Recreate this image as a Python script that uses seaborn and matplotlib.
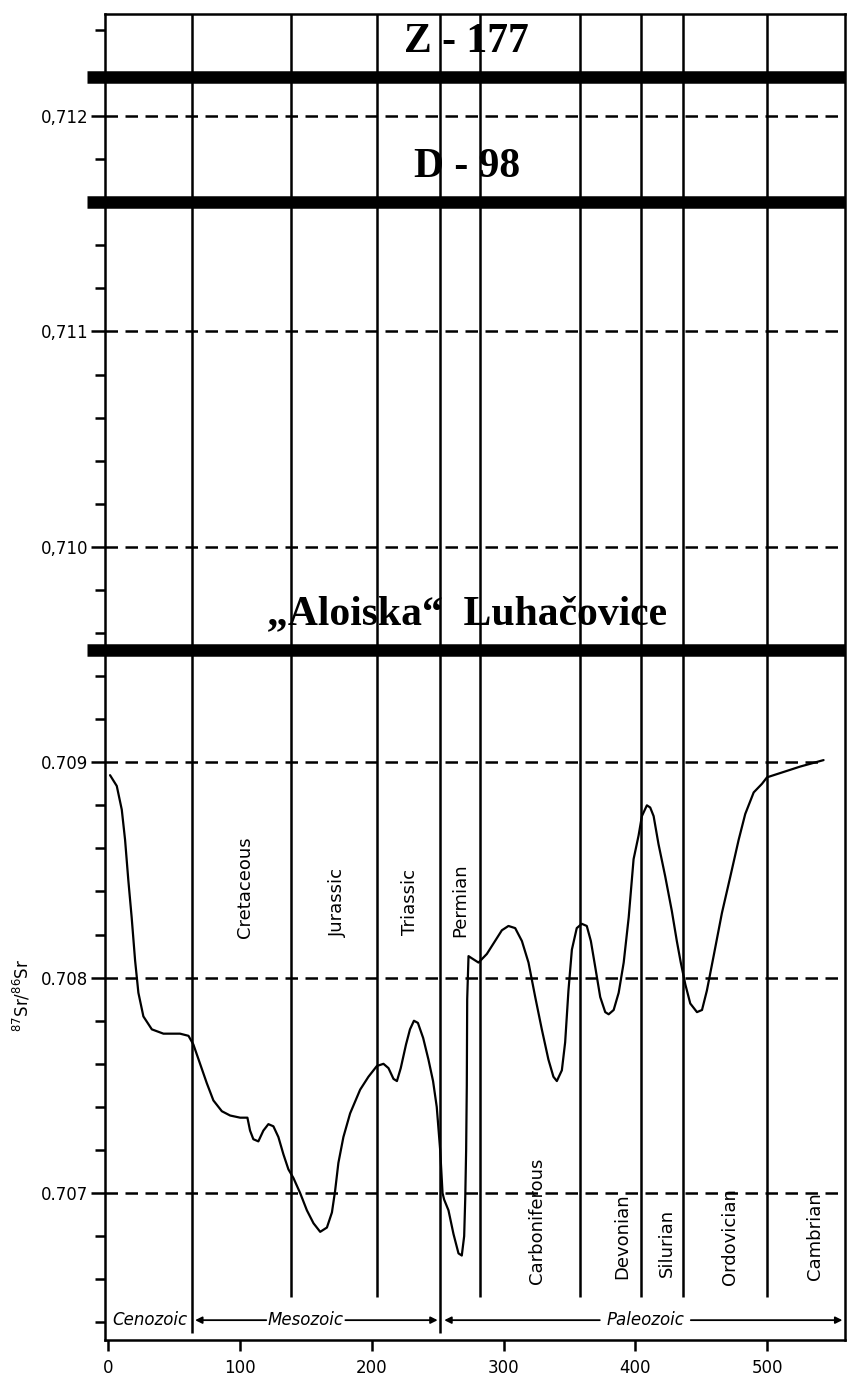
import matplotlib
matplotlib.use("Agg")
import matplotlib.pyplot as plt
import matplotlib as mpl
import seaborn as sns
import pandas as pd

# Sr isotope curve (age in Ma, 87Sr/86Sr)
age = [1.5, 6.6, 10.4, 12.9, 15.4, 17.9, 20.5, 23, 26.8, 33.2, 42, 54.6, 61,
       64.7, 69.8, 74.9, 79.9, 86.3, 92.6, 100.2, 105.7, 107.7, 110.2, 114,
       117.8, 121.6, 125.4, 129.2, 133, 136.8, 140.6, 145.7, 150.8, 155.8,
       160.9, 166, 169.8, 172.2, 174.7, 178.5, 183.6, 191.2, 197.5, 203.9,
       208.9, 212.7, 216.5, 219.1, 222, 226, 229, 232, 235, 239, 243, 246.5,
       249.3, 251.9, 253.7, 254.9, 258.2, 262, 265.8, 268.3, 270.1, 270.9,
       271.6, 272.1, 272.4, 273.4, 275.9, 281, 287.3, 298.7, 303.7, 308.8,
       313.9, 318.9, 324, 329, 334, 337.8, 340.4, 344.2, 346.7, 349.2, 351.8,
       355.5, 359.3, 363.1, 366.2, 369.5, 373.3, 377.1, 379.7, 383.5, 387.3,
       391.1, 394.9, 398.6, 402.4, 404.9, 408.7, 411.2, 413.8, 417.5, 422.6,
       427.6, 431.4, 434.4, 437.8, 441.6, 446.7, 450.5, 454.2, 459.3, 465.6,
       472, 478.3, 483.3, 489.7, 496, 499.8, 509.9, 525, 542.7]
ratio = [0.70894, 0.70889, 0.70878, 0.70864, 0.70845, 0.70828, 0.70808, 0.70793,
         0.70782, 0.70776, 0.70774, 0.70774, 0.70773,
         0.70769, 0.70760, 0.70751, 0.70743, 0.70738, 0.70736, 0.70735, 0.70735,
         0.70729, 0.70725, 0.70724,
         0.70729, 0.70732, 0.70731, 0.70726, 0.70718, 0.70711, 0.70707, 0.70700,
         0.70692, 0.70686,
         0.70682, 0.70684, 0.70691, 0.70701, 0.70714, 0.70726, 0.70737, 0.70748,
         0.70754, 0.70759,
         0.70760, 0.70758, 0.70753, 0.70752, 0.70758, 0.70769, 0.70776, 0.70780,
         0.70779, 0.70772, 0.70762, 0.70752,
         0.70740, 0.70720, 0.70700, 0.70697, 0.70692, 0.70681, 0.70672, 0.70671,
         0.70680, 0.70697,
         0.70720, 0.70750, 0.70790, 0.70810, 0.70809, 0.70807, 0.70811, 0.70822,
         0.70824, 0.70823,
         0.70817, 0.70807, 0.70791, 0.70776, 0.70762, 0.70754, 0.70752, 0.70757,
         0.70770, 0.70794, 0.70813,
         0.70823, 0.70825, 0.70824, 0.70817, 0.70805, 0.70791, 0.70784, 0.70783,
         0.70785, 0.70793,
         0.70807, 0.70828, 0.70855, 0.70866, 0.70875, 0.70880, 0.70879, 0.70875,
         0.70862, 0.70847,
         0.70831, 0.70817, 0.70807, 0.70797, 0.70788, 0.70784, 0.70785, 0.70794,
         0.70810, 0.70830,
         0.70847, 0.70864, 0.70876, 0.70886, 0.70890, 0.70893, 0.70895, 0.70898,
         0.70901]

# period boundaries (Ma)
boundaries = [64, 139, 204, 252, 282, 358, 404, 436, 500]
era_boundaries = [64, 252]
periods = ["Cretaceous", "Jurassic", "Triassic", "Permian", "Carboniferous",
           "Devonian", "Silurian", "Ordovician", "Cambrian"]
period_x = [104, 174.5, 229, 267, 325.5, 390, 424, 472, 536.5]
period_y = [0.70842, 0.70835, 0.70835, 0.70836, 0.70687, 0.70680, 0.70677, 0.70680, 0.70680]

# reference water samples
samples = ["Z - 177", "D - 98", "\u201eAloiska\u201c  Luha\u010dovice"]
sample_levels = [0.71218, 0.71160, 0.70952]

y_major = [0.707, 0.708, 0.709, 0.710, 0.711, 0.712]
y_labels = ["0.707", "0.708", "0.709", "0,710", "0,711", "0,712"]
x_ticks = [0, 100, 200, 300, 400, 500]

sns.set_style("white")
plt.rcParams['font.family'] = ['DejaVu Sans']
plt.rcParams['text.color'] = 'black'
plt.rcParams['xtick.color'] = 'black'
plt.rcParams['ytick.color'] = 'black'

fig = plt.figure(figsize=(8.47, 13.79), dpi=100)
ax = fig.add_axes([0.124, 0.0283, 0.8737, 0.9616])
ax.set_xlim(-2.3, 559)
ax.set_ylim(0.706318, 0.712474)

df = pd.DataFrame({"age": age, "ratio": ratio})
sns.lineplot(data=df, x="age", y="ratio", ax=ax, color="black", lw=1.6,
             sort=False, estimator=None)

# dashed reference levels
for lv in y_major:
    xmax = 542 if lv == 0.709 else 559
    ax.hlines(lv, -2.3, xmax, colors="black", linestyles=(0, (5, 3)), lw=1.8)

# period boundary lines
for b in boundaries:
    low = 0.70635 if b in era_boundaries else 0.706517
    ax.vlines(b, low, 0.712474, colors="black", lw=1.8)

# thick sample lines
for name, lv in zip(samples, sample_levels):
    ax.axhline(lv, xmin=-0.024, xmax=1.0, color="black", lw=9, clip_on=False,
               solid_capstyle="butt")
    ax.text(272, lv + 0.000165, name, ha="center", va="center",
            fontsize=30, fontweight="bold", family="Liberation Serif")

# period names
for name, px, py in zip(periods, period_x, period_y):
    ax.text(px, py, name, rotation=90, ha="center", va="center", fontsize=13)

# era row
era_y = 0.70641
ax.text(32, era_y, "Cenozoic", ha="center", va="center", fontsize=12, style="italic")
ax.text(149.5, era_y, "Mesozoic", ha="center", va="center", fontsize=12, style="italic")
ax.text(407.5, era_y, "Paleozoic", ha="center", va="center", fontsize=12, style="italic")
arrow = dict(arrowstyle="-|>", lw=1.3, color="black", shrinkA=0, shrinkB=0)
for start, end in [(120, 66), (180, 250), (373, 255), (442, 557)]:
    ax.annotate("", xy=(end, era_y), xytext=(start, era_y), arrowprops=arrow)

# axes styling
for side in ["left", "bottom", "top", "right"]:
    ax.spines[side].set_color("black")
    ax.spines[side].set_linewidth(1.8)
ax.set_yticks(y_major)
ax.set_yticklabels(y_labels, fontsize=12)
ax.yaxis.set_minor_locator(mpl.ticker.MultipleLocator(0.0002))
ax.set_xticks(x_ticks)
ax.set_xticklabels([str(t) for t in x_ticks], fontsize=12)
ax.tick_params(axis="y", which="major", direction="out", length=10, width=1.8, left=True, pad=2)
ax.tick_params(axis="y", which="minor", direction="out", length=7, width=1.8, left=True)
ax.tick_params(axis="x", which="major", direction="out", length=8, width=1.8, bottom=True, pad=6)
ax.set_xlabel("")
ax.set_ylabel("")
fig.text(22 / 847, 1 - 995 / 1379, "$^{87}$Sr/$^{86}$Sr", rotation=90,
         ha="center", va="center", fontsize=12)

fig.savefig("out.png", dpi=100)
